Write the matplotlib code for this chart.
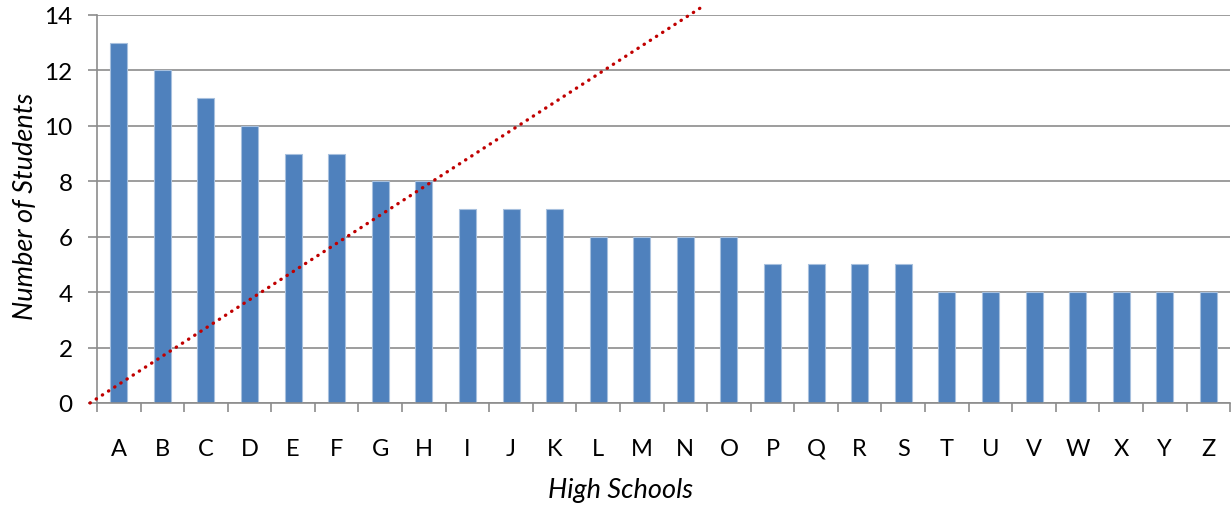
import matplotlib.pyplot as plt
import numpy as np

schools = list("ABCDEFGHIJKLMNOPQRSTUVWXYZ")
students = [13, 12, 11, 10, 9, 9, 8, 8, 7, 7, 7, 6, 6, 6, 6, 5, 5, 5, 5, 4, 4, 4, 4, 4, 4, 4]

# dotted reference line (category position, value)
ref_x = [-0.66, 13.37]
ref_y = [0.0, 14.28]

plt.rcParams['font.family'] = ['Lato', 'DejaVu Sans']

fig = plt.figure(figsize=(12.31, 5.06), dpi=100)
ax = fig.add_axes([0.0788, 0.2016, 0.9205, 0.7668])

x = np.arange(len(schools))
ax.bar(x, students, width=0.39, color='#4F81BD', edgecolor='#A7C0DE', linewidth=0.8, zorder=2)

ax.plot(ref_x, ref_y, color='#C00000', linewidth=2.4, linestyle=(0, (0.1, 2.1)),
        dash_capstyle='round', clip_on=False, zorder=3)

ax.set_xlim(-0.5, len(schools) - 0.5)
ax.set_ylim(0, 14)
ax.set_yticks(range(0, 15, 2))
ax.grid(axis='y', color='#8C8C8C', linewidth=1.2, zorder=1)
ax.set_axisbelow(True)

ax.set_xticks(x)
ax.set_xticklabels(schools)
ax.set_xticks(np.arange(-0.5, len(schools), 1.0), minor=True)
ax.tick_params(axis='x', which='major', length=0, pad=25, labelsize=17)
ax.tick_params(axis='x', which='minor', length=6.5, width=1.2, color='#8C8C8C')
ax.tick_params(axis='y', length=6.5, width=1.2, color='#8C8C8C', pad=11, labelsize=17.5)

for side in ['top', 'right']:
    ax.spines[side].set_visible(False)
for side in ['left', 'bottom']:
    ax.spines[side].set_color('#8C8C8C')
    ax.spines[side].set_linewidth(1.2)

ax.set_xlabel('High Schools', fontsize=19.5, style='italic')
ax.set_ylabel('Number of Students', fontsize=19.5, style='italic')
ax.xaxis.set_label_coords(0.462, -0.19)
ax.yaxis.set_label_coords(-0.052, 0.51)

fig.savefig('out.png', dpi=100)
